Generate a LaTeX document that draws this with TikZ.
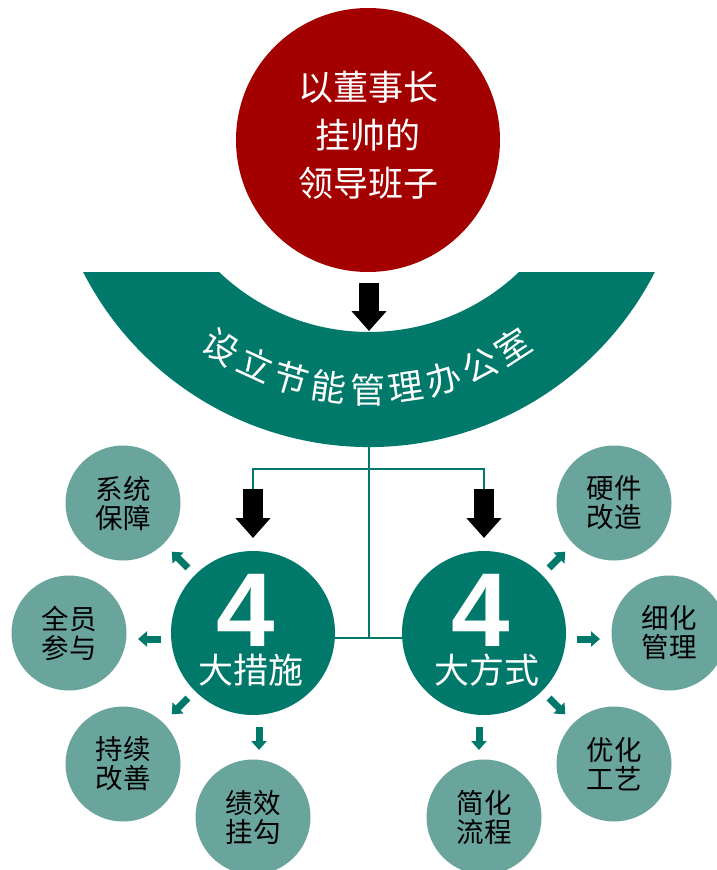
\documentclass[tikz,border=0pt]{standalone}
\usepackage{fontspec}
\setmainfont{Noto Sans CJK SC}
\newfontfamily\numfont{Liberation Sans}
\usetikzlibrary{arrows.meta,calc}
\definecolor{leadred}{HTML}{A30000}
\definecolor{tealdark}{HTML}{00796B}
\definecolor{teallight}{HTML}{6AA59D}
\begin{document}
\begin{tikzpicture}[x=1pt,y=1pt,
  bigc/.style={circle,fill=tealdark,minimum size=164pt,inner sep=0pt},
  smallc/.style={circle,fill=teallight,minimum size=115pt,inner sep=0pt,align=center,
    font=\fontsize{27.5}{29}\selectfont,text=black},
  conn/.style={draw=tealdark,line width=2.5pt},
  bigarrow/.style={line width=20pt,draw=black,-{Triangle[length=20pt,width=34pt]}},
  smallarrow/.style={line width=7pt,draw=tealdark,-{Triangle[length=9pt,width=15pt]}},
  whitetxt/.style={text=white,inner sep=0pt,align=center},
  arcchar/.style={whitetxt,font=\fontsize{35}{35}\selectfont,text height=24pt,text depth=0pt,text width=26pt}
  ]
\useasboundingbox (0,0) rectangle (716,-870);

% leadership circle
\node[circle,fill=leadred,minimum size=264pt,inner sep=0pt] (lead) at (368,-140) {};
\node[whitetxt,font=\fontsize{35}{48}\selectfont] (leadtext) at (368,-135) {以董事长\\挂帅的\\领导班子};

% office crescent
\fill[tealdark] (83.1,-272) arc[start angle=-152.95,end angle=-27.05,radius=321]
  -- (519,-272) arc[start angle=-46.4,end angle=-133.6,radius=217.5] -- cycle;
\coordinate (arcc) at (367.5,-121.3);
\foreach \c [count=\i from 0] in {设,立,节,能,管,理,办,公,室} {
  \pgfmathsetmacro\ang{-122.9+8.225*\i}
  \pgfmathsetmacro\rot{\ang+90}
  \node[arcchar,rotate=\rot] (office\i) at ($(arcc)+(\ang:267.7)$) {\hbox to 26pt{\hss\raisebox{-2pt}{\c}\hss}};
}
\coordinate (officebottom) at (369,-447);

% black arrow into crescent
\coordinate (a0s) at (369,-283);
\coordinate (a0e) at (369,-331);
\draw[bigarrow] (a0s) -- (a0e);

% big circles
\node[bigc] (L) at (253,-633) {};
\node[bigc] (R) at (484,-633) {};
\node[whitetxt,font=\numfont\bfseries\fontsize{105}{105}\selectfont,text height=75pt,text depth=0pt] (L4) at (246,-609) {4};
\node[whitetxt,font=\numfont\bfseries\fontsize{105}{105}\selectfont,text height=75pt,text depth=0pt] (R4) at (481,-609) {4};
\node[whitetxt,font=\fontsize{35}{35}\selectfont,text height=29pt,text depth=3pt] (Ltxt) at (251,-670) {大措施};
\node[whitetxt,font=\fontsize{35}{35}\selectfont,text height=29pt,text depth=3pt] (Rtxt) at (487,-670) {大方式};

% connectors
\coordinate (jl) at (253,-469);
\coordinate (jr) at (484,-469);
\coordinate (jlow) at (369,-638);
\coordinate (la) at (253,-489);
\coordinate (ra) at (484,-489);
\coordinate (lat) at (253,-538);
\coordinate (rat) at (484,-538);
\draw[conn] (officebottom) -- (jlow);
\draw[conn] (la) -- (jl) -- (jr) -- (ra);
\draw[conn] (L.east |- jlow) -- (R.west |- jlow);
\draw[bigarrow] (la) -- (lat);
\draw[bigarrow] (ra) -- (rat);

% small circles
\node[smallc] (s1) at (123,-503) {系统\\保障};
\node[smallc] (s2) at (69,-633) {全员\\参与};
\node[smallc] (s3) at (123,-764) {持续\\改善};
\node[smallc] (s4) at (253,-817) {绩效\\挂勾};
\node[smallc] (s5) at (614,-503) {硬件\\改造};
\node[smallc] (s6) at (669,-633) {细化\\管理};
\node[smallc] (s7) at (614,-764) {优化\\工艺};
\node[smallc] (s8) at (484,-817) {简化\\流程};

% small arrows
\draw[smallarrow] ($(L)+(135:92)$) -- ($(L)+(135:115)$);
\draw[smallarrow] (161,-639) -- (138,-639);
\draw[smallarrow] ($(L)+(225:92)$) -- ($(L)+(225:115)$);
\draw[smallarrow] (259,-727) -- (259,-750);
\draw[smallarrow] ($(R)+(45:92)$) -- ($(R)+(45:115)$);
\draw[smallarrow] (577,-639) -- (600,-639);
\draw[smallarrow] ($(R)+(-45:92)$) -- ($(R)+(-45:115)$);
\draw[smallarrow] (479,-727) -- (479,-750);
\end{tikzpicture}
\end{document}
